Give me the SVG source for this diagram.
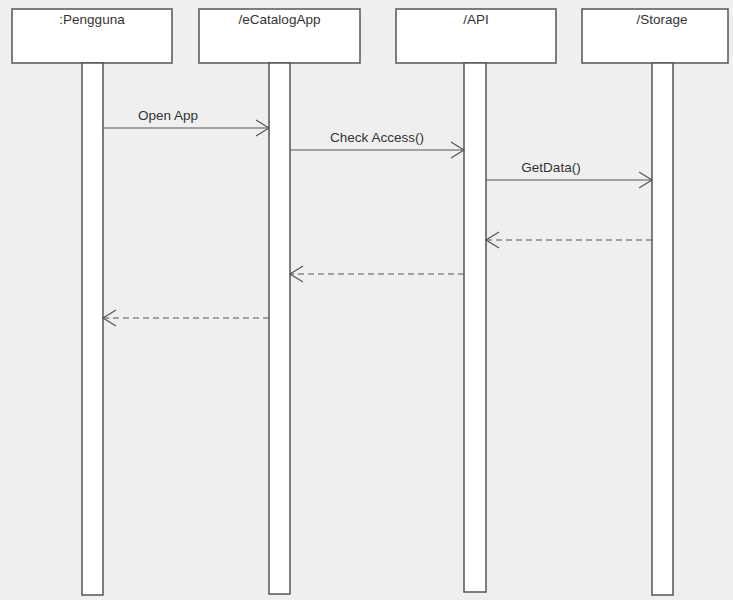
<svg xmlns="http://www.w3.org/2000/svg" width="733" height="600" viewBox="0 0 733 600">
<style>
.box{fill:#ffffff;stroke:#555555;stroke-width:1.5}
.bar{fill:#ffffff;stroke:#555555;stroke-width:1.5}
.t{font-family:"Liberation Sans",Arial,sans-serif;font-size:13.5px;fill:#333333}
.msg{stroke:#555555;stroke-width:1.2;fill:none}
.ret{stroke:#555555;stroke-width:1.2;fill:none;stroke-dasharray:6,4}
.head{stroke:#555555;stroke-width:1.2;fill:none}
</style>
<rect x="0" y="0" width="733" height="600" fill="#efefef"/>
<g id="pengguna">
<rect class="box" x="12" y="9" width="160" height="54"/>
<rect class="bar" x="82" y="63" width="21" height="532"/>
<text class="t" x="92" y="24" text-anchor="middle">:Pengguna</text>
</g>
<g id="ecatalogapp">
<rect class="box" x="199" y="9" width="161" height="54"/>
<rect class="bar" x="269" y="63" width="21" height="531"/>
<text class="t" x="279.5" y="24" text-anchor="middle">/eCatalogApp</text>
</g>
<g id="api">
<rect class="box" x="396" y="9" width="160" height="54"/>
<rect class="bar" x="464" y="63" width="22" height="529"/>
<text class="t" x="476" y="24" text-anchor="middle">/API</text>
</g>
<g id="storage">
<rect class="box" x="582" y="9" width="146" height="54"/>
<rect class="bar" x="652" y="63" width="21" height="532"/>
<text class="t" x="662" y="24" text-anchor="middle">/Storage</text>
</g>
<g id="connectors">
<line class="msg" x1="103" y1="128" x2="269" y2="128"/>
<polyline class="head" points="256,120 269,128 256,136"/>
<text class="t" x="168" y="120" text-anchor="middle">Open App</text>
<line class="msg" x1="290" y1="150" x2="464" y2="150"/>
<polyline class="head" points="451,142 464,150 451,158"/>
<text class="t" x="377" y="142" text-anchor="middle">Check Access()</text>
<line class="msg" x1="486" y1="180" x2="652" y2="180"/>
<polyline class="head" points="639,172 652,180 639,188"/>
<text class="t" x="551" y="172" text-anchor="middle">GetData()</text>
<line class="ret" x1="652" y1="240" x2="486" y2="240"/>
<polyline class="head" points="499,232 486,240 499,248"/>
<line class="ret" x1="464" y1="274" x2="290" y2="274"/>
<polyline class="head" points="303,266 290,274 303,282"/>
<line class="ret" x1="269" y1="318" x2="103" y2="318"/>
<polyline class="head" points="116,310 103,318 116,326"/>
</g>
</svg>
